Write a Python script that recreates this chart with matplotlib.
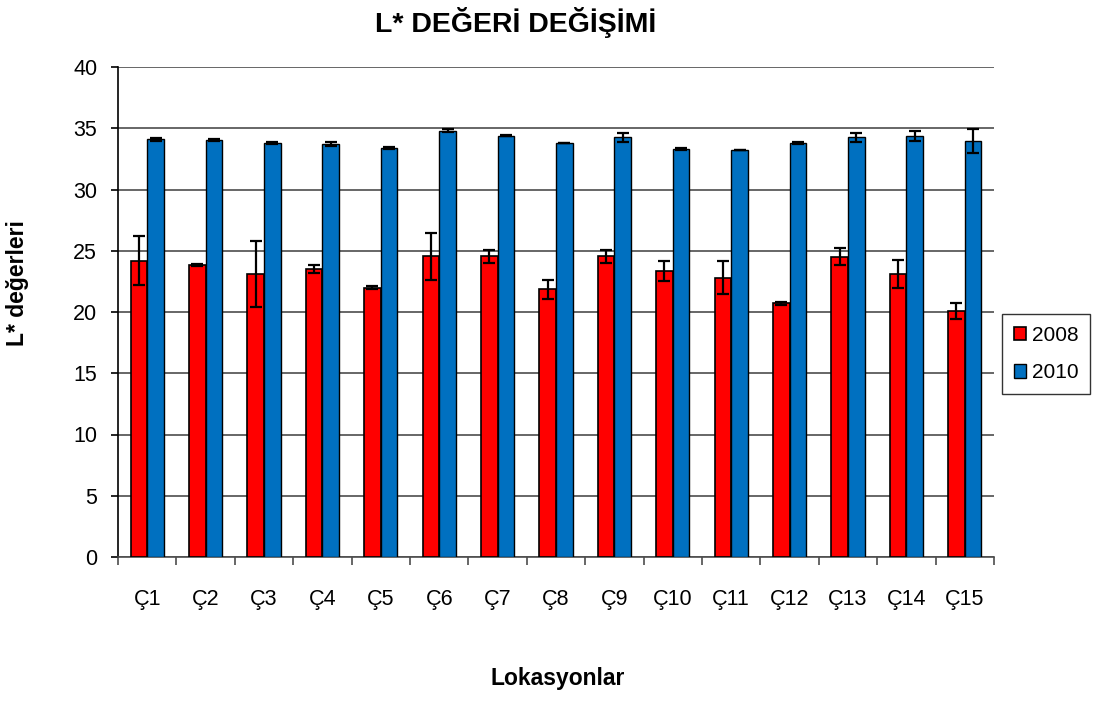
import numpy as np
import matplotlib.pyplot as plt

plt.rcParams['font.family'] = ['Liberation Sans', 'DejaVu Sans']

# Datos
lokasyonlar = ['Ç1', 'Ç2', 'Ç3', 'Ç4', 'Ç5', 'Ç6', 'Ç7', 'Ç8', 'Ç9', 'Ç10',
               'Ç11', 'Ç12', 'Ç13', 'Ç14', 'Ç15']
l_2008 = [24.2, 23.85, 23.1, 23.5, 22.0, 24.55, 24.55, 21.85, 24.55, 23.35,
          22.8, 20.7, 24.5, 23.1, 20.05]
err_2008 = [2.0, 0.1, 2.7, 0.3, 0.1, 1.9, 0.55, 0.75, 0.55, 0.8,
            1.35, 0.15, 0.7, 1.15, 0.65]
l_2010 = [34.1, 34.05, 33.8, 33.7, 33.4, 34.8, 34.4, 33.8, 34.25, 33.3,
          33.2, 33.8, 34.25, 34.35, 33.95]
err_2010 = [0.1, 0.05, 0.05, 0.15, 0.1, 0.1, 0.05, 0.0, 0.35, 0.1,
            0.0, 0.05, 0.35, 0.4, 0.95]

fig = plt.figure(figsize=(10.94, 7.01), dpi=100)
ax = fig.add_axes([118 / 1094, 1 - 557 / 701, (994 - 118) / 1094, (557 - 67) / 701])

x = np.arange(len(lokasyonlar))
w = 0.285
ekw = dict(ecolor='black', elinewidth=1.6, capsize=4, capthick=1.6)
ax.bar(x - w / 2, l_2008, w, yerr=err_2008, color='#ff0000', edgecolor='black',
       linewidth=1.2, label='2008', error_kw=ekw, zorder=3)
ax.bar(x + w / 2, l_2010, w, yerr=err_2010, color='#0070c0', edgecolor='black',
       linewidth=1.0, label='2010', error_kw=ekw, zorder=3)

ax.set_xlim(-0.5, len(lokasyonlar) - 0.5)
ax.set_ylim(0, 40)
ax.set_yticks(range(0, 41, 5))
ax.yaxis.grid(True, color='#4d4d4d', linewidth=1.2, zorder=0)
ax.set_axisbelow(True)

ax.set_xticks(x)
ax.set_xticklabels(lokasyonlar, fontsize=15.5)
ax.set_xticks(np.arange(-0.5, len(lokasyonlar)), minor=True)
ax.tick_params(axis='x', which='major', length=0, pad=23)
ax.tick_params(axis='x', which='minor', length=6, width=1.2, color='#4d4d4d')
ax.tick_params(axis='y', length=5, width=1.2, pad=10, labelsize=15.5)

for s in ['top', 'right']:
    ax.spines[s].set_visible(False)
ax.spines['left'].set_color('black')
ax.spines['left'].set_linewidth(1.2)
ax.spines['bottom'].set_color('#4d4d4d')
ax.spines['bottom'].set_linewidth(1.2)

fig.text(516 / 1094, 1 - 22 / 701, 'L* DEĞERİ DEĞİŞİMİ', ha='center', va='center',
         fontsize=20.5, fontweight='bold')
fig.text(18 / 1094, 1 - 283 / 701, 'L* değerleri', ha='center', va='center',
         rotation=90, fontsize=16.5, fontweight='bold')
fig.text(558 / 1094, 1 - 679 / 701, 'Lokasyonlar', ha='center', va='center',
         fontsize=16.5, fontweight='bold')

fig.legend(loc='center', bbox_to_anchor=(1046 / 1094, 1 - 354 / 701), fontsize=15,
           frameon=True, fancybox=False, edgecolor='black', handlelength=0.6,
           handleheight=0.6, handletextpad=0.25, labelspacing=0.9, borderpad=0.55,
           borderaxespad=0)

plt.savefig('out.png', dpi=100)
